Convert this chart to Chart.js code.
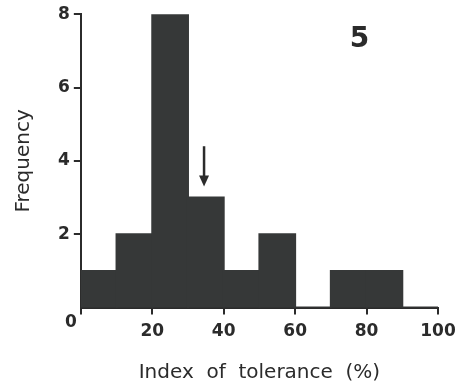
<!DOCTYPE html>
<html>
<head>
<meta charset="utf-8">
<script src="https://cdn.jsdelivr.net/npm/chart.js@4"></script>
<style>
  html, body { margin: 0; padding: 0; background: #fff; }
  #wrap { width: 458px; height: 386px; }
</style>
</head>
<body>
<div id="wrap"><canvas id="hist" width="458" height="386"></canvas></div>
<script>
// Histogram data (bins of 10%)
const binStarts = [0, 10, 20, 30, 40, 50, 60, 70, 80, 90];
const binWidth = 10;
const frequencies = [1, 2, 8, 3, 1, 2, 0, 1, 1, 0];
const yTicks = [2, 4, 6, 8];
const xTicks = [0, 20, 40, 60, 80, 100];
const panelLabel = '5';
// arrow marking the mean index
const arrowX = 34.5;
const arrowFrom = 4.4;
const arrowTo = 3.3;

const ink = '#2b2b2b';
const barFill = '#363838';
const fontFam = '"DejaVu Sans", "Open Sans", sans-serif';

const points = binStarts.map((s, i) => ({x: s + binWidth / 2, y: frequencies[i]}));

const extras = {
  id: 'extras',
  afterDraw(chart) {
    const {ctx, scales: {x, y}} = chart;
    ctx.save();
    ctx.fillStyle = ink;
    ctx.strokeStyle = ink;
    // corner zero label
    ctx.font = 'bold 17px ' + fontFam;
    ctx.textAlign = 'right';
    ctx.textBaseline = 'middle';
    ctx.fillText('0', x.getPixelForValue(0) - 4, y.getPixelForValue(0) + 15);
    // panel number
    ctx.font = 'bold 28px ' + fontFam;
    ctx.textAlign = 'center';
    ctx.fillText(panelLabel, x.getPixelForValue(78), y.getPixelForValue(7.3));
    // arrow
    const ax = x.getPixelForValue(arrowX);
    const y1 = y.getPixelForValue(arrowFrom);
    const y2 = y.getPixelForValue(arrowTo);
    ctx.lineWidth = 2.5;
    ctx.beginPath();
    ctx.moveTo(ax, y1);
    ctx.lineTo(ax, y2 - 8);
    ctx.stroke();
    ctx.beginPath();
    ctx.moveTo(ax - 5, y2 - 11);
    ctx.lineTo(ax + 5, y2 - 11);
    ctx.lineTo(ax, y2);
    ctx.closePath();
    ctx.fill();
    ctx.restore();
  }
};

new Chart(document.getElementById('hist'), {
  type: 'bar',
  data: {
    datasets: [{
      data: points,
      backgroundColor: barFill,
      borderWidth: 0,
      inflateAmount: 1,
      barPercentage: 1,
      categoryPercentage: 1
    }]
  },
  options: {
    responsive: false,
    animation: false,
    layout: {padding: {top: 9, right: 20, left: 12, bottom: 1}},
    plugins: {legend: {display: false}, tooltip: {enabled: false}},
    scales: {
      x: {
        type: 'linear',
        offset: false,
        min: 0, max: 100,
        afterBuildTicks: s => { s.ticks = xTicks.map(v => ({value: v})); },
        afterFit: s => { s.paddingRight = 0; },
        ticks: {
          color: ink,
          font: {family: fontFam, size: 17, weight: 'bold'},
          padding: 7,
          maxRotation: 0,
          callback: v => (v === 0 ? '' : v)
        },
        grid: {offset: false, drawOnChartArea: false, tickLength: 7, color: ink, lineWidth: 2},
        border: {display: true, color: ink, width: 2},
        title: {
          display: true,
          text: 'Index  of  tolerance  (%)',
          color: ink,
          font: {family: fontFam, size: 20},
          padding: {top: 12, bottom: 0}
        }
      },
      y: {
        min: 0, max: 8,
        afterBuildTicks: s => { s.ticks = yTicks.map(v => ({value: v})); },
        ticks: {
          color: ink,
          font: {family: fontFam, size: 17, weight: 'bold'},
          padding: 4
        },
        grid: {drawOnChartArea: false, tickLength: 7, color: ink, lineWidth: 2},
        border: {display: true, color: ink, width: 2},
        title: {
          display: true,
          text: 'Frequency',
          color: ink,
          font: {family: fontFam, size: 20},
          padding: {top: 0, bottom: 18}
        }
      }
    }
  },
  plugins: [extras]
});
</script>
</body>
</html>
